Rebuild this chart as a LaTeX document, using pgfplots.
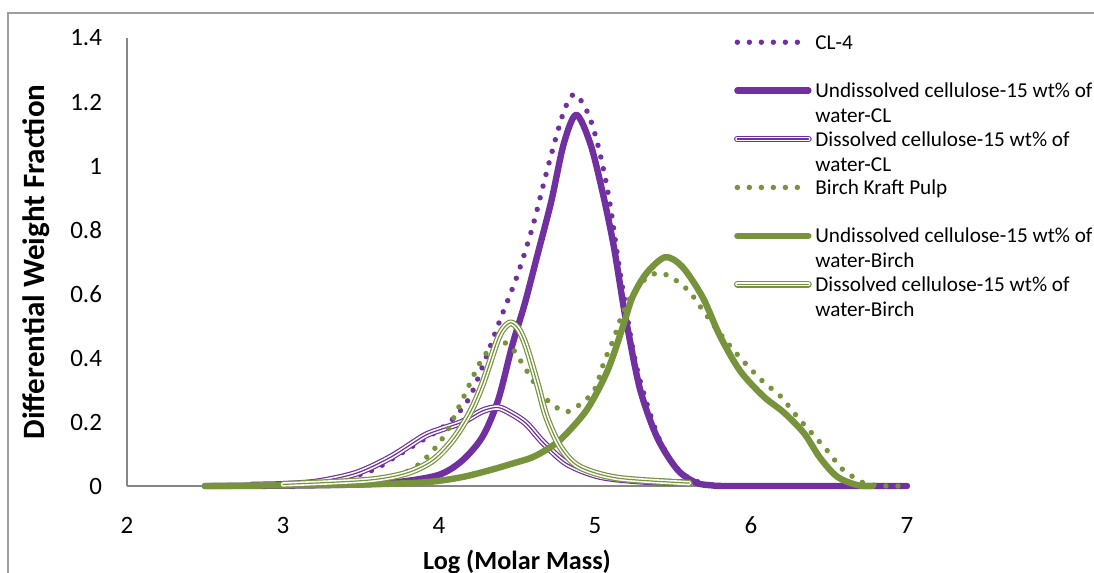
\documentclass[border=0pt]{standalone}
\usepackage{pgfplots}
\pgfplotsset{compat=1.18}
\usepackage{fontspec}
\setmainfont{Carlito}
\definecolor{clpurple}{HTML}{7030A0}
\definecolor{birch}{HTML}{77933C}
\definecolor{axgray}{HTML}{868686}

\newcommand{\legtwo}[2]{\begin{tabular}{@{}l@{}}#1\\#2\end{tabular}}

\pgfplotsset{
  dotline/.style={line width=2.7bp, line cap=round, dash pattern=on 0bp off 6bp},
  thickline/.style={line width=3.2bp, line cap=round, line join=round},
  dblline/.style={line width=3.4bp, line cap=round, line join=round,
    postaction={draw=white, line width=2.2bp},
    postaction={draw=#1, line width=0.6bp}},
}

\begin{document}
\begin{tikzpicture}
\begin{axis}[
  at={(0,0)}, anchor=south west,
  scale only axis, width=390bp, height=224bp,
  xmin=2, xmax=7, ymin=0, ymax=1.4,
  xtick={2,3,4,5,6,7},
  ytick={0,0.2,0.4,0.6,0.8,1,1.2,1.4},
  axis x line*=bottom, axis y line*=left,
  axis line style={draw=axgray, line width=0.6bp, -},
  major tick length=0pt,
  clip=false,
  /pgf/number format/assume math mode=true,
  ticklabel style={font=\fontsize{12.5bp}{15bp}\selectfont},
  yticklabel style={anchor=east, xshift=-9bp},
  xticklabel style={anchor=north, yshift=-12bp},
  xlabel={Log (Molar Mass)},
  ylabel={Differential Weight Fraction},
  xlabel style={font=\fontsize{13.1bp}{16bp}\selectfont\bfseries, at={(axis description cs:0.5,-0.1696)}, anchor=center},
  ylabel style={font=\fontsize{15.5bp}{18bp}\selectfont\bfseries, at={(axis description cs:-0.1167,0.5)}, anchor=center},
  legend image code/.code={
    \pgfpathrectangle{\pgfpoint{-2bp}{-12.5bp}}{\pgfpoint{39.5bp}{25bp}}\pgfusepath{discard}
    \draw[#1] (0bp,3.2bp) -- (35.5bp,3.2bp);},
  legend cell align=left,
  legend style={draw=none, fill=none, inner sep=0pt,
    at={(axis description cs:0.7769,1.033)}, anchor=north west,
    font=\fontsize{10.6bp}{12.5bp}\selectfont,
    nodes={inner sep=0pt}, row sep=-0.8bp,
    /tikz/every odd column/.append style={column sep=1.5bp}},
]
% CL-4
\addplot[clpurple, dotline, smooth] table {
x y
2.5 0
2.8 0.001
3.0 0.003
3.2 0.010
3.4 0.025
3.5 0.037
3.6 0.055
3.7 0.085
3.8 0.115
3.9 0.145
4.0 0.175
4.1 0.215
4.2 0.28
4.3 0.40
4.4 0.53
4.5 0.655
4.6 0.81
4.7 1.00
4.8 1.17
4.87 1.225
4.95 1.17
5.0 1.10
5.05 1.00
5.1 0.87
5.15 0.70
5.2 0.55
5.25 0.41
5.3 0.31
5.4 0.16
5.5 0.07
5.6 0.025
5.7 0.008
5.8 0
6.5 0
7.0 0
};
\addlegendentry{\legtwo{CL-4}{\mbox{}}}
% Undissolved CL
\addplot[clpurple, thickline, smooth] table {
x y
2.5 0
3.0 0.001
3.5 0.005
3.75 0.013
4.0 0.035
4.15 0.08
4.28 0.155
4.38 0.27
4.47 0.44
4.55 0.57
4.63 0.72
4.72 0.89
4.80 1.07
4.88 1.16
4.97 1.07
5.05 0.915
5.12 0.75
5.18 0.57
5.21 0.49
5.29 0.30
5.40 0.15
5.53 0.05
5.65 0.01
5.75 0.002
5.85 0
6.5 0
7.0 0
};
\addlegendentry{\legtwo{Undissolved cellulose-15 wt\% of}{water-CL}}
% Dissolved CL
\addplot[clpurple, dblline=clpurple, smooth] table {
x y
2.8 0.003
3.0 0.005
3.22 0.013
3.47 0.04
3.69 0.09
3.90 0.155
4.0 0.175
4.15 0.20
4.28 0.235
4.38 0.245
4.47 0.225
4.56 0.195
4.67 0.135
4.82 0.07
5.03 0.03
5.3 0.015
5.6 0.01
};
\addlegendentry{\legtwo{Dissolved cellulose-15 wt\% of}{water-CL}}
% Birch Kraft Pulp
\addplot[birch, dotline, smooth] table {
x y
2.5 0
3.0 0.002
3.3 0.008
3.5 0.015
3.71 0.03
3.85 0.06
3.96 0.11
4.05 0.17
4.15 0.27
4.28 0.40
4.39 0.45
4.47 0.43
4.55 0.37
4.67 0.28
4.79 0.235
4.86 0.24
4.99 0.295
5.06 0.39
5.12 0.46
5.17 0.53
5.24 0.60
5.33 0.65
5.40 0.665
5.48 0.655
5.60 0.61
5.69 0.55
5.78 0.49
5.87 0.435
5.97 0.38
6.08 0.325
6.19 0.28
6.29 0.22
6.39 0.165
6.49 0.11
6.58 0.055
6.65 0.03
6.71 0.012
6.8 0.002
6.9 0
7.0 0
};
\addlegendentry{\legtwo{Birch Kraft Pulp}{\mbox{}}}
% Undissolved Birch
\addplot[birch, thickline, smooth] table {
x y
2.5 0
3.0 0.002
3.54 0.005
3.92 0.012
4.15 0.028
4.33 0.05
4.47 0.07
4.60 0.09
4.71 0.12
4.80 0.155
4.95 0.24
5.08 0.36
5.18 0.50
5.24 0.59
5.33 0.665
5.45 0.715
5.56 0.685
5.69 0.59
5.80 0.47
5.93 0.36
6.08 0.28
6.21 0.23
6.34 0.165
6.44 0.09
6.55 0.03
6.68 0.003
6.78 0
};
\addlegendentry{\legtwo{Undissolved cellulose-15 wt\% of}{water-Birch}}
% Dissolved Birch
\addplot[birch, dblline=birch, smooth] table {
x y
3.0 0.005
3.54 0.018
3.79 0.04
3.96 0.08
4.09 0.145
4.20 0.23
4.28 0.32
4.37 0.45
4.41 0.49
4.46 0.51
4.51 0.49
4.56 0.435
4.63 0.32
4.69 0.215
4.78 0.12
4.90 0.06
5.14 0.025
5.56 0.01
5.6 0.01
};
\addlegendentry{\legtwo{Dissolved cellulose-15 wt\% of}{water-Birch}}
\end{axis}
\draw[axgray!80, line width=0.75bp] (-59.5bp,-60bp) -- (-59.5bp,236.5bp) -- (520bp,236.5bp);
\pgfresetboundingbox
\useasboundingbox (-63.5bp,-43.5bp) rectangle (483.5bp,243bp);
\end{tikzpicture}
\end{document}
